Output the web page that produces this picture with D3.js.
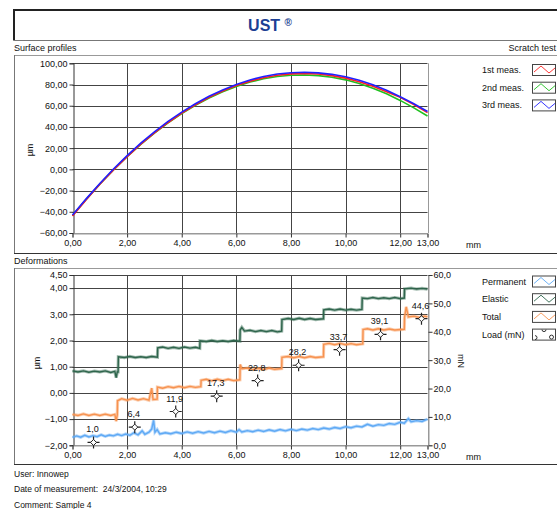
<!DOCTYPE html>
<html><head><meta charset="utf-8">
<script src="https://cdn.jsdelivr.net/npm/d3@7"></script>
<style>
body{margin:0;background:#fff;}
svg{display:block;font-family:"Liberation Sans",Arial,sans-serif;}
</style></head>
<body>
<script>
// ---------- DATA ----------
const xTicks = [0, 2, 4, 6, 8, 10, 12, 13];
const profileYTicks = [-60, -40, -20, 0, 20, 40, 60, 80, 100];
const profileX = [0,0.5,1,1.5,2,2.5,3,3.5,4,4.5,5,5.5,6,6.5,7,7.5,8,8.5,9,9.5,10,10.5,11,11.5,12,12.5,13];
const meas1 = [-44,-28.6,-14.1,-0.6,12.0,23.7,34.4,44.2,53.0,60.9,67.9,73.9,79.0,83.2,86.4,88.7,90.0,90.4,89.9,88.4,86.0,82.7,78.4,73.2,68.0,61.0,53.5];
const meas2 = [-43.5,-28.3,-13.9,-0.5,12.0,23.6,34.2,43.9,52.6,60.4,67.3,73.2,78.2,82.3,85.4,87.5,88.7,89.0,88.4,86.8,84.4,80.9,76.5,71.2,65.0,58.0,50.3];
const meas3 = [-43,-27.8,-13.3,0.3,13.0,24.7,35.4,45.2,54.0,61.9,68.9,74.9,80.0,84.3,87.6,89.9,91.1,91.5,91.0,89.6,87.3,84.0,79.7,74.5,68.5,61.8,54.5];
const profileNames = ["1st meas.", "2nd meas.", "3rd meas."];
const profileColors = ["#ff2020", "#20c020", "#2020ff"];

const defYTicks = [-2, -1, 0, 1, 2, 3, 4, 4.5];
const defGrid = [-1, 0, 1, 2, 3, 4];
const loadTicks = [0, 10, 20, 30, 40, 50, 60];
const permanent = [[0,-1.70],[0.15,-1.64],[0.3,-1.69],[0.45,-1.62],[0.6,-1.68],[0.75,-1.63],[0.9,-1.67],[1.05,-1.60],[1.2,-1.66],[1.35,-1.61],[1.5,-1.64],[1.65,-1.58],[1.8,-1.63],[1.95,-1.57],[2.1,-1.62],[2.25,-1.52],[2.4,-1.60],[2.55,-1.45],[2.65,-1.58],[2.8,-1.50],[2.9,-1.38],[2.97,-1.05],[3.02,-1.50],[3.1,-1.40],[3.2,-1.57],[3.4,-1.52],[3.6,-1.56],[3.8,-1.50],[4.0,-1.55],[4.2,-1.49],[4.4,-1.54],[4.6,-1.48],[4.8,-1.53],[5.0,-1.47],[5.2,-1.52],[5.4,-1.46],[5.6,-1.51],[5.8,-1.44],[6.0,-1.50],[6.1,-1.40],[6.2,-1.49],[6.4,-1.44],[6.6,-1.48],[6.8,-1.42],[7.0,-1.47],[7.2,-1.41],[7.4,-1.46],[7.6,-1.40],[7.8,-1.45],[8.0,-1.39],[8.2,-1.44],[8.4,-1.38],[8.6,-1.42],[8.8,-1.36],[9.0,-1.40],[9.2,-1.34],[9.4,-1.38],[9.6,-1.32],[9.8,-1.36],[10.0,-1.29],[10.2,-1.33],[10.4,-1.27],[10.6,-1.30],[10.8,-1.20],[11.0,-1.27],[11.2,-1.21],[11.4,-1.24],[11.6,-1.17],[11.8,-1.20],[12.0,-1.12],[12.15,-1.16],[12.3,-0.98],[12.4,-1.10],[12.6,-1.06],[12.8,-1.09],[13.0,-1.00]];
const elastic = [[0,0.84],[0.2,0.80],[0.4,0.84],[0.6,0.79],[0.8,0.83],[1.0,0.80],[1.2,0.84],[1.4,0.78],[1.55,0.82],[1.6,0.58],[1.64,0.80],[1.67,0.80],[1.68,1.38],[1.9,1.35],[2.1,1.39],[2.3,1.35],[2.5,1.38],[2.7,1.35],[2.9,1.39],[3.11,1.36],[3.12,1.72],[3.3,1.75],[3.5,1.70],[3.7,1.74],[3.9,1.70],[4.1,1.75],[4.3,1.71],[4.5,1.74],[4.66,1.70],[4.67,1.99],[4.9,1.96],[5.1,2.00],[5.3,1.96],[5.5,1.99],[5.7,1.96],[5.9,2.00],[6.13,1.97],[6.14,2.40],[6.2,2.50],[6.3,2.36],[6.5,2.39],[6.7,2.34],[6.9,2.38],[7.1,2.34],[7.3,2.38],[7.5,2.33],[7.66,2.36],[7.67,2.80],[7.9,2.84],[8.1,2.80],[8.3,2.85],[8.5,2.80],[8.7,2.84],[8.9,2.80],[9.19,2.83],[9.2,3.17],[9.4,3.20],[9.6,3.16],[9.8,3.20],[10.0,3.16],[10.2,3.19],[10.4,3.16],[10.6,3.19],[10.61,3.62],[10.8,3.60],[11.0,3.64],[11.2,3.60],[11.4,3.63],[11.6,3.60],[11.8,3.64],[12.0,3.60],[12.15,3.62],[12.16,3.97],[12.4,4.00],[12.6,3.96],[12.8,3.99],[13.0,3.96]];
const total = [[0,-0.82],[0.2,-0.86],[0.4,-0.80],[0.6,-0.86],[0.8,-0.81],[1.0,-0.86],[1.2,-0.81],[1.4,-0.86],[1.55,-0.82],[1.6,-1.08],[1.64,-0.84],[1.65,-0.30],[1.8,-0.22],[2.0,-0.28],[2.2,-0.21],[2.4,-0.27],[2.6,-0.22],[2.8,-0.28],[2.9,0.18],[2.95,-0.25],[3.1,-0.24],[3.11,0.22],[3.3,0.18],[3.5,0.24],[3.7,0.20],[3.9,0.25],[4.1,0.20],[4.3,0.25],[4.5,0.21],[4.7,0.24],[4.71,0.48],[4.9,0.52],[5.1,0.46],[5.3,0.52],[5.5,0.47],[5.7,0.52],[5.9,0.47],[6.13,0.50],[6.14,1.08],[6.2,0.92],[6.4,0.95],[6.6,0.89],[6.8,0.94],[7.0,0.89],[7.2,0.95],[7.4,0.90],[7.66,0.93],[7.67,1.36],[7.9,1.39],[8.1,1.34],[8.3,1.39],[8.5,1.34],[8.7,1.39],[8.9,1.35],[9.19,1.38],[9.2,1.85],[9.4,1.89],[9.6,1.84],[9.8,1.89],[10.0,1.84],[10.2,1.88],[10.4,1.84],[10.63,1.87],[10.64,2.42],[10.8,2.45],[11.0,2.40],[11.2,2.45],[11.4,2.40],[11.6,2.44],[11.8,2.40],[12.15,2.43],[12.16,2.88],[12.22,3.28],[12.3,2.90],[12.5,2.93],[12.7,2.88],[12.9,2.93],[13.0,2.90]];
const loadX = [0.77, 2.28, 3.78, 5.28, 6.78, 8.28, 9.78, 11.28, 12.78];
const loadVal = [1.0, 6.4, 11.9, 17.3, 22.8, 28.2, 33.7, 39.1, 44.6];
const defNames = ["Permanent", "Elastic", "Total", "Load (mN)"];
const defColors = ["#5ea9f5", "#2e654c", "#f7924f", null];

// ---------- DRAW ----------
const W = 557, H = 509;
const svg = d3.select("body").append("svg").attr("width", W).attr("height", H);
svg.append("rect").attr("width", W).attr("height", H).attr("fill", "#fff");
const comma = f => v => d3.format(f)(v).replace(".", ",");

// title box
svg.append("line").attr("x1",14).attr("x2",W).attr("y1",10).attr("y2",10).attr("stroke","#222").attr("stroke-width",2);
svg.append("line").attr("x1",14).attr("x2",14).attr("y1",9).attr("y2",40.5).attr("stroke","#222").attr("stroke-width",2);
svg.append("line").attr("x1",14).attr("x2",W).attr("y1",40.5).attr("y2",40.5).attr("stroke","#777").attr("stroke-width",1);
const title = svg.append("text").attr("x",270).attr("y",31).attr("text-anchor","middle")
  .attr("fill","#1c3f94").attr("font-weight","bold").attr("font-size",16);
title.append("tspan").text("UST ");
title.append("tspan").attr("font-size",10).attr("dy",-5).text("®");

function panel(y0, y1, label, right) {
  svg.append("text").attr("x",14).attr("y",y0-4).attr("font-size",9).attr("fill","#111").text(label);
  if (right) svg.append("text").attr("x",W-1).attr("y",y0-4).attr("font-size",9).attr("text-anchor","end").attr("fill","#111").text(right);
  svg.append("line").attr("x1",14).attr("x2",W).attr("y1",y0+0.5).attr("y2",y0+0.5).attr("stroke","#999");
  svg.append("line").attr("x1",14.5).attr("x2",14.5).attr("y1",y0).attr("y2",y1).attr("stroke","#777");
  svg.append("line").attr("x1",14).attr("x2",W).attr("y1",y1+0.5).attr("y2",y1+0.5).attr("stroke","#333");
}
panel(55, 253, "Surface profiles", "Scratch test");
panel(268, 464, "Deformations");

const x = d3.scaleLinear([0, 13], [72.5, 427.5]);

function frame(y, gridVals, top, bottom) {
  const g = svg.append("g");
  g.selectAll(".hg").data(gridVals).join("line")
    .attr("x1", x(0)).attr("x2", x(13))
    .attr("y1", d => Math.round(y(d)) + 0.5).attr("y2", d => Math.round(y(d)) + 0.5)
    .attr("stroke", "#444");
  g.selectAll(".vg").data([2,4,6,8,10,12]).join("line")
    .attr("x1", d => Math.round(x(d)) + 0.5).attr("x2", d => Math.round(x(d)) + 0.5)
    .attr("y1", top).attr("y2", bottom).attr("stroke", "#444");
  g.append("line").attr("x1", Math.round(x(13))+0.5).attr("x2", Math.round(x(13))+0.5)
    .attr("y1", top).attr("y2", bottom).attr("stroke", "#999");
  g.append("line").attr("x1", x(0)).attr("x2", x(13)).attr("y1", Math.round(bottom)+0.5).attr("y2", Math.round(bottom)+0.5).attr("stroke", "#999");
  g.append("line").attr("x1", x(0)).attr("x2", x(13)).attr("y1", Math.round(top)+0.5).attr("y2", Math.round(top)+0.5).attr("stroke", "#444");
}
function styleAxis(g) {
  g.select(".domain").attr("stroke", "#333");
  g.selectAll(".tick line").attr("stroke", "#333");
  g.selectAll("text").attr("font-size", 9).attr("fill", "#111").attr("font-family", "Liberation Sans, Arial, sans-serif");
}

// ---------- Surface profiles ----------
const y1 = d3.scaleLinear([-60, 100], [233, 63.3]);
frame(y1, [-40,-20,0,20,40,60,80], y1(100), y1(-60));
svg.append("g").attr("transform", `translate(${Math.round(x(0))+0.5},0)`)
  .call(d3.axisLeft(y1).tickValues(profileYTicks).tickSize(4).tickPadding(2).tickFormat(comma(".2f"))).call(styleAxis);
svg.append("g").attr("transform", `translate(0,${Math.round(y1(-60))+0.5})`)
  .call(d3.axisBottom(x).tickValues(xTicks).tickSize(4).tickPadding(2).tickFormat(comma(".2f"))).call(styleAxis)
  .select(".domain").attr("stroke", "#999");
svg.append("text").attr("x", 466).attr("y", 247.5).attr("font-size", 9).attr("fill","#111").text("mm");
svg.append("text").attr("transform", "translate(33,150) rotate(-90)").attr("text-anchor","middle").attr("font-size", 9).attr("fill","#111").text("µm");

const profLine = d3.line().x((d, i) => x(profileX[i])).y(d => y1(d));
[[meas2,1],[meas1,0],[meas3,2]].forEach(([arr, k]) => {
  svg.append("path").attr("d", profLine(arr)).attr("fill","none")
    .attr("stroke", profileColors[k]).attr("stroke-width", 1.6);
});

function legendBox(yc, color, load) {
  svg.append("rect").attr("x", 532.5).attr("y", yc - 5.5).attr("width", 23).attr("height", 11)
    .attr("fill", "#fff").attr("stroke", "#444");
  if (!load) {
    const pts = [[534, yc + 2], [541, yc - 4], [549, yc + 3], [555, yc - 2]];
    svg.append("path").attr("d", d3.line()(pts)).attr("fill","none").attr("stroke", color).attr("stroke-width", 0.9);
  } else {
    svg.append("path").attr("d", `M535,${yc+1} a2,2 0 0 1 0,4`).attr("fill","none").attr("stroke","#333");
    svg.append("path").attr("d", `M542,${yc-5} a2,2 0 0 0 4,0`).attr("fill","none").attr("stroke","#333");
    svg.append("circle").attr("cx", 551.5).attr("cy", yc + 2.5).attr("r", 2).attr("fill","none").attr("stroke","#333");
  }
}
profileNames.forEach((n, i) => {
  const yc = 70 + i * 17.7;
  svg.append("text").attr("x", 482).attr("y", yc + 3).attr("font-size", 9).attr("fill","#111").text(n);
  legendBox(yc, profileColors[i], false);
});

// ---------- Deformations ----------
const y2 = d3.scaleLinear([-2, 4.5], [445.3, 275]);
const yL = d3.scaleLinear([0, 60], [445.3, 275]);
frame(y2, defGrid, y2(4.5), y2(-2));
svg.append("g").attr("transform", `translate(${Math.round(x(0))+0.5},0)`)
  .call(d3.axisLeft(y2).tickValues(defYTicks).tickSize(4).tickPadding(2).tickFormat(comma(".2f"))).call(styleAxis);
svg.append("g").attr("transform", `translate(${Math.round(x(13))+0.5},0)`)
  .call(d3.axisRight(yL).tickValues(loadTicks).tickSize(4).tickPadding(1).tickFormat(comma(".1f"))).call(styleAxis)
  .select(".domain").attr("stroke", "#999");
svg.append("g").attr("transform", `translate(0,${Math.round(y2(-2))+0.5})`)
  .call(d3.axisBottom(x).tickValues(xTicks).tickSize(4).tickPadding(2).tickFormat(comma(".2f"))).call(styleAxis)
  .select(".domain").attr("stroke", "#999");
svg.append("text").attr("x", 466).attr("y", 460).attr("font-size", 9).attr("fill","#111").text("mm");
svg.append("text").attr("transform", "translate(40,363) rotate(-90)").attr("text-anchor","middle").attr("font-size", 9).attr("fill","#111").text("µm");
svg.append("text").attr("transform", "translate(458,361) rotate(90)").attr("text-anchor","middle").attr("font-size", 9).attr("fill","#111").text("mN");

const defLine = d3.line().x(d => x(d[0])).y(d => y2(d[1]));
[[permanent,0],[elastic,1],[total,2]].forEach(([arr, k]) => {
  svg.append("path").attr("d", defLine(arr)).attr("fill","none")
    .attr("stroke", defColors[k]).attr("stroke-width", 3.2).attr("stroke-opacity", 0.45);
  svg.append("path").attr("d", defLine(arr)).attr("fill","none")
    .attr("stroke", defColors[k]).attr("stroke-width", 1.4);
});

const mk = svg.append("g").selectAll("g").data(loadX).join("g")
  .attr("transform", (d, i) => `translate(${x(d)},${yL(loadVal[i])})`);
mk.append("path").attr("d", "M-6,0H-2.5M2.5,0H6M0,-6V-2.5M0,2.5V6").attr("stroke", "#222").attr("stroke-width", 1.2);
mk.append("path").attr("d", "M0,-3L3,0L0,3L-3,0Z").attr("fill", "#fff").attr("stroke", "#222").attr("stroke-width", 1);
svg.append("g").selectAll("text").data(loadX).join("text")
  .attr("x", (d) => x(d) - 1).attr("y", (d, i) => yL(loadVal[i]) - 10)
  .attr("text-anchor", "middle").attr("font-size", 9).attr("fill", "#111")
  .text((d, i) => comma(".1f")(loadVal[i]));

defNames.forEach((n, i) => {
  const yc = 281.5 + i * 17.7;
  svg.append("text").attr("x", 482).attr("y", yc + 3).attr("font-size", 9).attr("fill","#111").text(n);
  legendBox(yc, defColors[i], i === 3);
});

// footer
["User: Innowep", "Date of measurement:  24/3/2004, 10:29", "Comment: Sample 4"].forEach((t, i) => {
  svg.append("text").attr("x", 14).attr("y", 477 + i * 15.3).attr("font-size", 8.5).attr("fill","#111")
    .attr("xml:space","preserve").style("white-space","pre").text(t);
});
</script>
</body></html>
